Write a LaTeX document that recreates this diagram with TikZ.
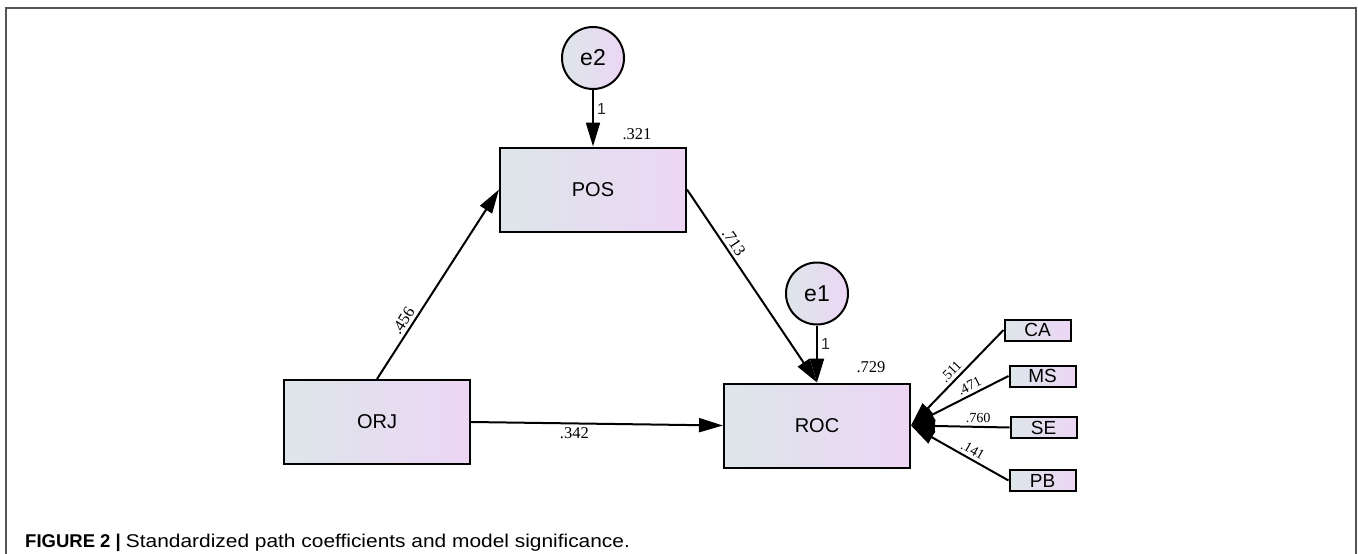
\documentclass[tikz,border=0pt]{standalone}
\usepackage{fontspec}
\setmainfont{Liberation Serif}
\setsansfont{Liberation Sans}
\newfontfamily\capfont{Liberation Sans}[FakeStretch=1.13]
\usetikzlibrary{arrows.meta}
\definecolor{lft}{RGB}{221,230,234}
\definecolor{rgt}{RGB}{236,214,244}
\definecolor{framegray}{RGB}{85,85,85}
\definecolor{onedark}{RGB}{45,40,40}

\begin{document}
\begin{tikzpicture}[x=1pt,y=-1pt,>={Triangle[length=24pt,width=14pt]},
      v/.style={rectangle,draw,line width=2pt,left color=lft,right color=rgt,minimum width=186pt,minimum height=84pt,font=\sffamily\fontsize{20}{24}\selectfont},
      m/.style={rectangle,draw,line width=2pt,left color=lft,right color=rgt,minimum width=66pt,minimum height=21pt,inner sep=0pt,font=\sffamily\fontsize{19}{22}\selectfont},
      e/.style={circle,draw,line width=2pt,left color=lft,right color=rgt,minimum size=62pt,inner sep=0pt,font=\sffamily\fontsize{23}{26}\selectfont},
      a/.style={inner sep=3pt,font=\fontsize{16.5}{18}\selectfont},
      s/.style={inner sep=3pt,font=\fontsize{14}{16}\selectfont},
      o/.style={inner sep=3pt,text=onedark,font=\sffamily\fontsize{16}{18}\selectfont},
      p/.style={line width=2pt}]
    \useasboundingbox (0,0) rectangle (1358,554);
    \draw[framegray,line width=1.5pt] (6,554) -- (6,8) -- (1356,8) -- (1356,554);
    \node[e] (e2) at (593,58) {e2};
    \node[v] (POS) at (593,189.5) {POS};
    \node[v] (ORJ) at (377,422) {ORJ};
    \node[v] (ROC) at (817,425.5) {ROC};
    \node[e] (e1) at (817,293.5) {e1};
    \node[m] (CA) at (1037.5,330) {CA};
    \node[m] (MS) at (1042.5,376) {MS};
    \node[m] (SE) at (1043.5,427.5) {SE};
    \node[m] (PB) at (1042.5,480.5) {PB};
    \node[a,inner sep=0pt] (r2) at (637,134) {.321};
    \node[a,inner sep=0pt] (r1) at (871,367) {.729};
    \draw[p,->] (e2) -- node[o,right,pos=.33]{1} (POS);
    \draw[p,->] (e1) -- node[o,right,pos=.33]{1} (ROC);
    \draw[p,->] (ORJ.north) -- node[a,sloped,above,pos=.28]{.456} (POS.west);
    \draw[p,->] (POS.east) -- node[a,sloped,above,pos=.3]{.713} (ROC.north);
    \draw[p,->] (ORJ.east) -- node[a,below,pos=.41]{.342} (ROC.west);
    \draw[p,->] (CA.west) -- node[s,sloped,above,pos=.5]{.511} (ROC.east);
    \draw[p,->] (MS.west) -- node[s,sloped,above,pos=.36]{.471} (ROC.east);
    \draw[p,->] (SE.west) -- node[s,sloped,above,pos=.32]{.760} (ROC.east);
    \draw[p,->] (PB.west) -- node[s,sloped,above,pos=.41]{.141} (ROC.east);
    \node[anchor=base west,inner sep=0pt,font=\sffamily\fontsize{18.5}{22}\selectfont] (cap) at (25,547) {\textbf{FIGURE 2 |} \capfont Standardized path coefficients and model significance.};
  \end{tikzpicture}
\end{document}
